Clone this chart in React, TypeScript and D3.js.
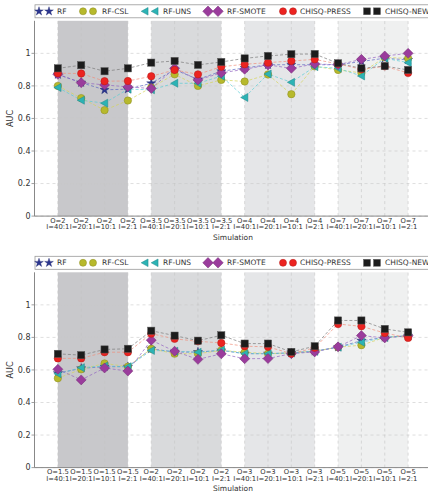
import React from 'react'
import * as d3 from 'd3'

// tick labels
const ratiosI = ['40:1', '20:1', '10:1', '2:1']
const topO = ['2', '3.5', '4', '7']
const bottomO = ['1.5', '2', '3', '5']

// top panel AUC values
const topRF = [0.87, 0.82, 0.776, 0.78, 0.816, 0.9, 0.84, 0.89, 0.91, 0.93, 0.93, 0.93, 0.93, 0.95, 0.97, 0.96]
const topCSL = [0.8, 0.725, 0.651, 0.71, 0.79, 0.871, 0.8, 0.837, 0.827, 0.87, 0.749, 0.92, 0.898, 0.88, 0.975, 0.969]
const topUNS = [0.79, 0.712, 0.694, 0.78, 0.776, 0.816, 0.816, 0.86, 0.729, 0.873, 0.822, 0.918, 0.908, 0.861, 0.97, 0.943]
const topSMOTE = [0.871, 0.82, 0.806, 0.794, 0.784, 0.908, 0.837, 0.88, 0.902, 0.929, 0.908, 0.935, 0.93, 0.963, 0.984, 1.0]
const topPRESS = [0.878, 0.876, 0.829, 0.83, 0.859, 0.898, 0.871, 0.918, 0.933, 0.943, 0.953, 0.963, 0.935, 0.902, 0.92, 0.88]
const topNEW = [0.908, 0.927, 0.89, 0.908, 0.943, 0.953, 0.929, 0.947, 0.969, 0.984, 0.995, 0.996, 0.939, 0.908, 0.922, 0.898]

// bottom panel AUC values
const botRF = [0.58, 0.61, 0.62, 0.62, 0.73, 0.71, 0.71, 0.72, 0.7, 0.7, 0.705, 0.715, 0.74, 0.78, 0.8, 0.81]
const botCSL = [0.549, 0.604, 0.64, 0.62, 0.73, 0.7, 0.7, 0.72, 0.709, 0.7, 0.705, 0.715, 0.74, 0.752, 0.8, 0.81]
const botUNS = [0.577, 0.614, 0.624, 0.62, 0.72, 0.715, 0.709, 0.722, 0.7, 0.7, 0.705, 0.715, 0.74, 0.77, 0.8, 0.81]
const botSMOTE = [0.604, 0.539, 0.612, 0.593, 0.783, 0.715, 0.665, 0.699, 0.669, 0.67, 0.7, 0.711, 0.742, 0.811, 0.797, 0.81]
const botPRESS = [0.671, 0.671, 0.709, 0.709, 0.823, 0.791, 0.776, 0.766, 0.746, 0.742, 0.7, 0.736, 0.882, 0.868, 0.827, 0.797]
const botNEW = [0.699, 0.691, 0.726, 0.73, 0.841, 0.811, 0.78, 0.813, 0.762, 0.762, 0.711, 0.746, 0.904, 0.904, 0.852, 0.831]

const yTicks = [0, 0.2, 0.4, 0.6, 0.8, 1]
const bandColors = ['#c8c8cb', '#d9dadc', '#e5e6e8', '#eff0f0']

const seriesStyle = [
  { name: 'RF', shape: 'star', fill: '#2b3590', line: '#5563c0' },
  { name: 'RF-CSL', shape: 'circle', fill: '#b7b92c', line: '#d4d455' },
  { name: 'RF-UNS', shape: 'tri', fill: '#2cb3b5', line: '#55ccd4' },
  { name: 'RF-SMOTE', shape: 'diamond', fill: '#9a3c9c', line: '#9060c0' },
  { name: 'CHISQ-PRESS', shape: 'circle', fill: '#ec2320', line: '#f08a78' },
  { name: 'CHISQ-NEW', shape: 'square', fill: '#1c1c1c', line: '#777777' },
]
// legend item x starts (marker pair, label)
const legendX = [39, 83, 145, 208, 283, 367]
const legendText = [57, 102, 163, 227, 300, 385]

const font = 'DejaVu Sans, sans-serif'

function Marker({ shape, fill, x, y, s = 1 }: any) {
  const stroke = d3.color(fill)!.darker(0.8).toString()
  if (shape === 'circle') return <circle cx={x} cy={y} r={3.7 * s} fill={fill} stroke={stroke} strokeWidth={0.5} />
  if (shape === 'square') {
    const h = 3.6 * s
    return <rect x={x - h} y={y - h} width={2 * h} height={2 * h} fill={fill} stroke="#555" strokeWidth={0.5} />
  }
  if (shape === 'diamond') {
    const h = 5 * s
    return <path d={`M${x},${y - h}L${x + h},${y}L${x},${y + h}L${x - h},${y}Z`} fill={fill} stroke={stroke} strokeWidth={0.5} />
  }
  if (shape === 'tri') {
    const h = 4 * s
    return <path d={`M${x - h},${y}L${x + h * 0.8},${y - h}L${x + h * 0.8},${y + h}Z`} fill={fill} stroke={stroke} strokeWidth={0.5} />
  }
  const star = d3.symbol().type(d3.symbolStar).size(26 * s * s)()
  return <path d={star!} transform={`translate(${x},${y})`} fill={fill} stroke={stroke} strokeWidth={0.4} />
}

function Panel({ top, series, groupO }: any) {
  const x = d3.scaleLinear().domain([-1, 16]).range([34.5, 34.5 + 17 * 23.35])
  const y = d3.scaleLinear().domain([0, 1.2]).range([top + 195.3, top])
  const idx = d3.range(16)
  const line = d3.line<number>().x((_, i) => x(i)).y(d => y(d))
  const legY = top - 9.5
  return (
    <g>
      {groupO.map((o: string, g: number) => (
        <rect key={o + g} x={x(g * 4)} y={y(1.2)} width={x(g * 4 + 3) - x(g * 4)} height={y(0) - y(1.2)} fill={bandColors[g]} />
      ))}
      {yTicks.map(t => (
        <line key={t} x1={x(-1)} x2={430} y1={y(t)} y2={y(t)} stroke="#c8c8c8" strokeWidth={0.6} strokeDasharray="3,3" />
      ))}
      {idx.map(i => (
        <line key={i} x1={x(i)} x2={x(i)} y1={y(0)} y2={y(1.2)} stroke="#c4c4c4" strokeWidth={0.6} strokeDasharray="3,3" />
      ))}
      <line x1={x(-1)} x2={x(-1)} y1={y(0)} y2={y(1.2)} stroke="#888" strokeWidth={1} />
      <line x1={x(-1)} x2={430} y1={y(0)} y2={y(0)} stroke="#888" strokeWidth={1} />
      {yTicks.map(t => (
        <g key={'t' + t}>
          <line x1={x(-1) - 3} x2={x(-1)} y1={y(t)} y2={y(t)} stroke="#888" strokeWidth={0.8} />
          <text x={x(-1) - 4} y={y(t)} dy="0.35em" textAnchor="end" fontSize={8} fontFamily={font} fill="#333">{t === 0 ? '0' : t === 1 ? '1' : t.toFixed(1)}</text>
        </g>
      ))}
      <text transform={`translate(13,${y(0.6)}) rotate(-90)`} textAnchor="middle" fontSize={8} fontFamily={font} fill="#333">AUC</text>
      {idx.map(i => (
        <text key={'x' + i} x={x(i)} y={y(0) + 6.6} textAnchor="middle" fontSize={6.8} fontFamily={font} fill="#333">
          <tspan x={x(i)}>{'O=' + groupO[Math.floor(i / 4)]}</tspan>
          <tspan x={x(i)} dy={6.7}>{'I=' + ratiosI[i % 4]}</tspan>
        </text>
      ))}
      <text x={x(7.5)} y={y(0) + 23.5} textAnchor="middle" fontSize={7.5} fontFamily={font} fill="#333">Simulation</text>
      {series.map((vals: number[], k: number) => (
        <path key={'l' + k} d={line(vals)!} fill="none" stroke={seriesStyle[k].line} strokeWidth={0.9} strokeDasharray="3,2" opacity={0.75} />
      ))}
      {series.map((vals: number[], k: number) =>
        vals.map((v, i) => <Marker key={k + '-' + i} shape={seriesStyle[k].shape} fill={seriesStyle[k].fill} x={x(i)} y={y(v)} />)
      )}
      <rect x={35} y={legY - 6.5} width={420} height={13} fill="#fff" stroke="#999" strokeWidth={0.8} />
      {seriesStyle.map((s, k) => (
        <g key={s.name}>
          <Marker shape={s.shape} fill={s.fill} x={legendX[k]} y={legY} s={s.shape === 'diamond' ? 1.05 : 0.95} />
          <Marker shape={s.shape} fill={s.fill} x={legendX[k] + 10} y={legY} s={s.shape === 'diamond' ? 1.05 : 0.95} />
          <text x={legendText[k]} y={legY} dy="0.35em" fontSize={7.5} fontFamily={font} fill="#333">{s.name}</text>
        </g>
      ))}
    </g>
  )
}

export default function App() {
  return (
    <svg width={428} height={493} style={{ position: 'absolute', left: 0, top: 0, background: '#fff' }}>
      <rect width={428} height={493} fill="#fff" />
      <Panel top={20.8} groupO={topO} series={[topRF, topCSL, topUNS, topSMOTE, topPRESS, topNEW]} />
      <Panel top={272.3} groupO={bottomO} series={[botRF, botCSL, botUNS, botSMOTE, botPRESS, botNEW]} />
    </svg>
  )
}
